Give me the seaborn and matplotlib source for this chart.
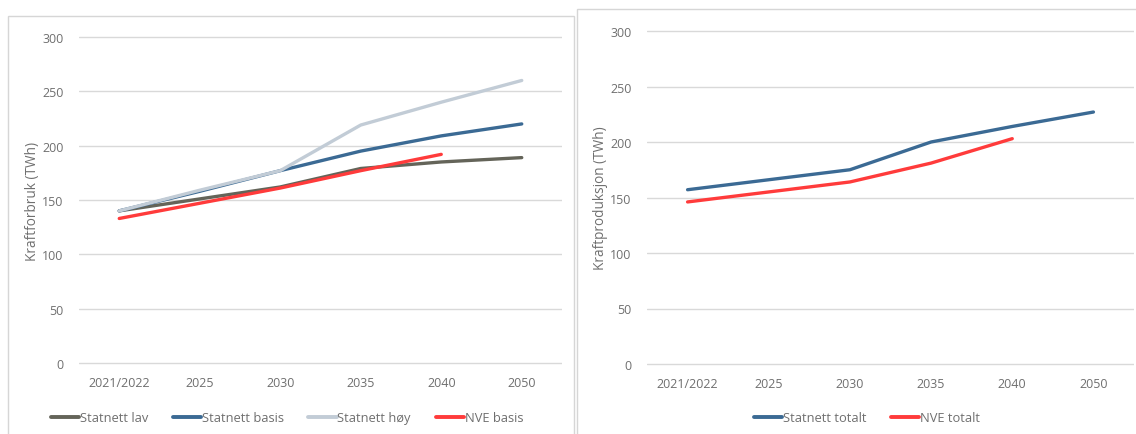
import matplotlib
matplotlib.use("Agg")
import matplotlib.pyplot as plt
from matplotlib.patches import Rectangle
from matplotlib.lines import Line2D
import numpy as np
import pandas as pd
import seaborn as sns

# Years on the category axis
categories = ["2021/2022", "2025", "2030", "2035", "2040", "2050"]

# Power consumption scenarios (TWh)
statnett_lav = [140, 151, 162, 179, 185, 189]
statnett_basis = [140, 158, 177, 195, 209, 220]
statnett_hoy = [140, 159, 177, 219, 240, 260]
nve_basis = [133, 147, 161, 177, 192, None]

# Power production scenarios (TWh)
statnett_totalt = [157, 166, 175, 200, 214, 227]
nve_totalt = [146, 155, 164, 181, 203, None]

yticks = [0, 50, 100, 150, 200, 250, 300]

consumption = {
    "Statnett lav": statnett_lav,
    "Statnett basis": statnett_basis,
    "Statnett høy": statnett_hoy,
    "NVE basis": nve_basis,
}
production = {
    "Statnett totalt": statnett_totalt,
    "NVE totalt": nve_totalt,
}
colors = {
    "Statnett lav": "#646459",
    "Statnett basis": "#3b6a94",
    "Statnett høy": "#c2ccd6",
    "NVE basis": "#ff3b3b",
    "Statnett totalt": "#3b6a94",
    "NVE totalt": "#ff3b3b",
}

sns.set_theme(style="white")
plt.rcParams["font.family"] = ["Open Sans", "DejaVu Sans"]
TEXT = "#6f6f6f"
GRID = "#d9d9d9"
FS = 9.0


def to_long(series):
    rows = []
    for name, vals in series.items():
        for i, v in enumerate(vals):
            if v is not None:
                rows.append({"pos": i, "value": v, "serie": name})
    return pd.DataFrame(rows)


W, H = 1136, 435
fig = plt.figure(figsize=(W / 100, H / 100), dpi=100)
fig.patch.set_facecolor("white")

# Light frames around each panel
for (x0, y0, x1, y1) in [(8, 17, 574, 440), (577, 10, 1140, 440)]:
    fig.patches.append(Rectangle((x0 / W, 1 - y1 / H), (x1 - x0) / W, (y1 - y0) / H,
                                 transform=fig.transFigure, fill=False,
                                 edgecolor="#d6d6d6", linewidth=1.0, zorder=0))

PAD = 2.0  # data units of headroom so the 0 and 300 gridlines are not clipped


def panel(rect, series, ylabel, legend_center, ncol):
    x0, ytop, x1, ybot = rect
    per = (ybot - ytop) / 300.0
    ytop -= PAD * per
    ybot += PAD * per
    ax = fig.add_axes([x0 / W, 1 - ybot / H, (x1 - x0) / W, (ybot - ytop) / H])
    df = to_long(series)
    sns.lineplot(data=df, x="pos", y="value", hue="serie", hue_order=list(series),
                 palette=colors, linewidth=2.4, ax=ax, legend=False, sort=True)
    ax.set_xlim(-0.5, len(categories) - 0.5)
    ax.set_ylim(-PAD, 300 + PAD)
    ax.set_yticks(yticks)
    ax.set_xticks(range(len(categories)))
    ax.set_xticklabels(categories)
    ax.set_xlabel("")
    ax.set_ylabel(ylabel, color=TEXT, fontsize=FS + 0.8, labelpad=2)
    ax.tick_params(axis="both", length=0, labelsize=FS, colors=TEXT)
    ax.tick_params(axis="y", pad=11)
    ax.tick_params(axis="x", pad=8)
    for s in ax.spines.values():
        s.set_visible(False)
    ax.grid(axis="y", color=GRID, linewidth=1.0)
    ax.set_axisbelow(True)
    handles = [Line2D([], [], color=colors[n], linewidth=2.8) for n in series]
    fig.legend(handles, list(series), loc="center", ncol=ncol,
               bbox_to_anchor=(legend_center / W, 1 - 419 / H), frameon=False,
               fontsize=FS + 0.3, labelcolor=TEXT, handlelength=2.2,
               handletextpad=0.05, columnspacing=1.9)
    return ax


panel((79, 38, 562, 364), consumption, "Kraftforbruk (TWh)", 287, 4)
panel((647, 32, 1134, 365), production, "Kraftproduksjon (TWh)", 867, 2)

fig.savefig("out.png", dpi=100, facecolor="white")
